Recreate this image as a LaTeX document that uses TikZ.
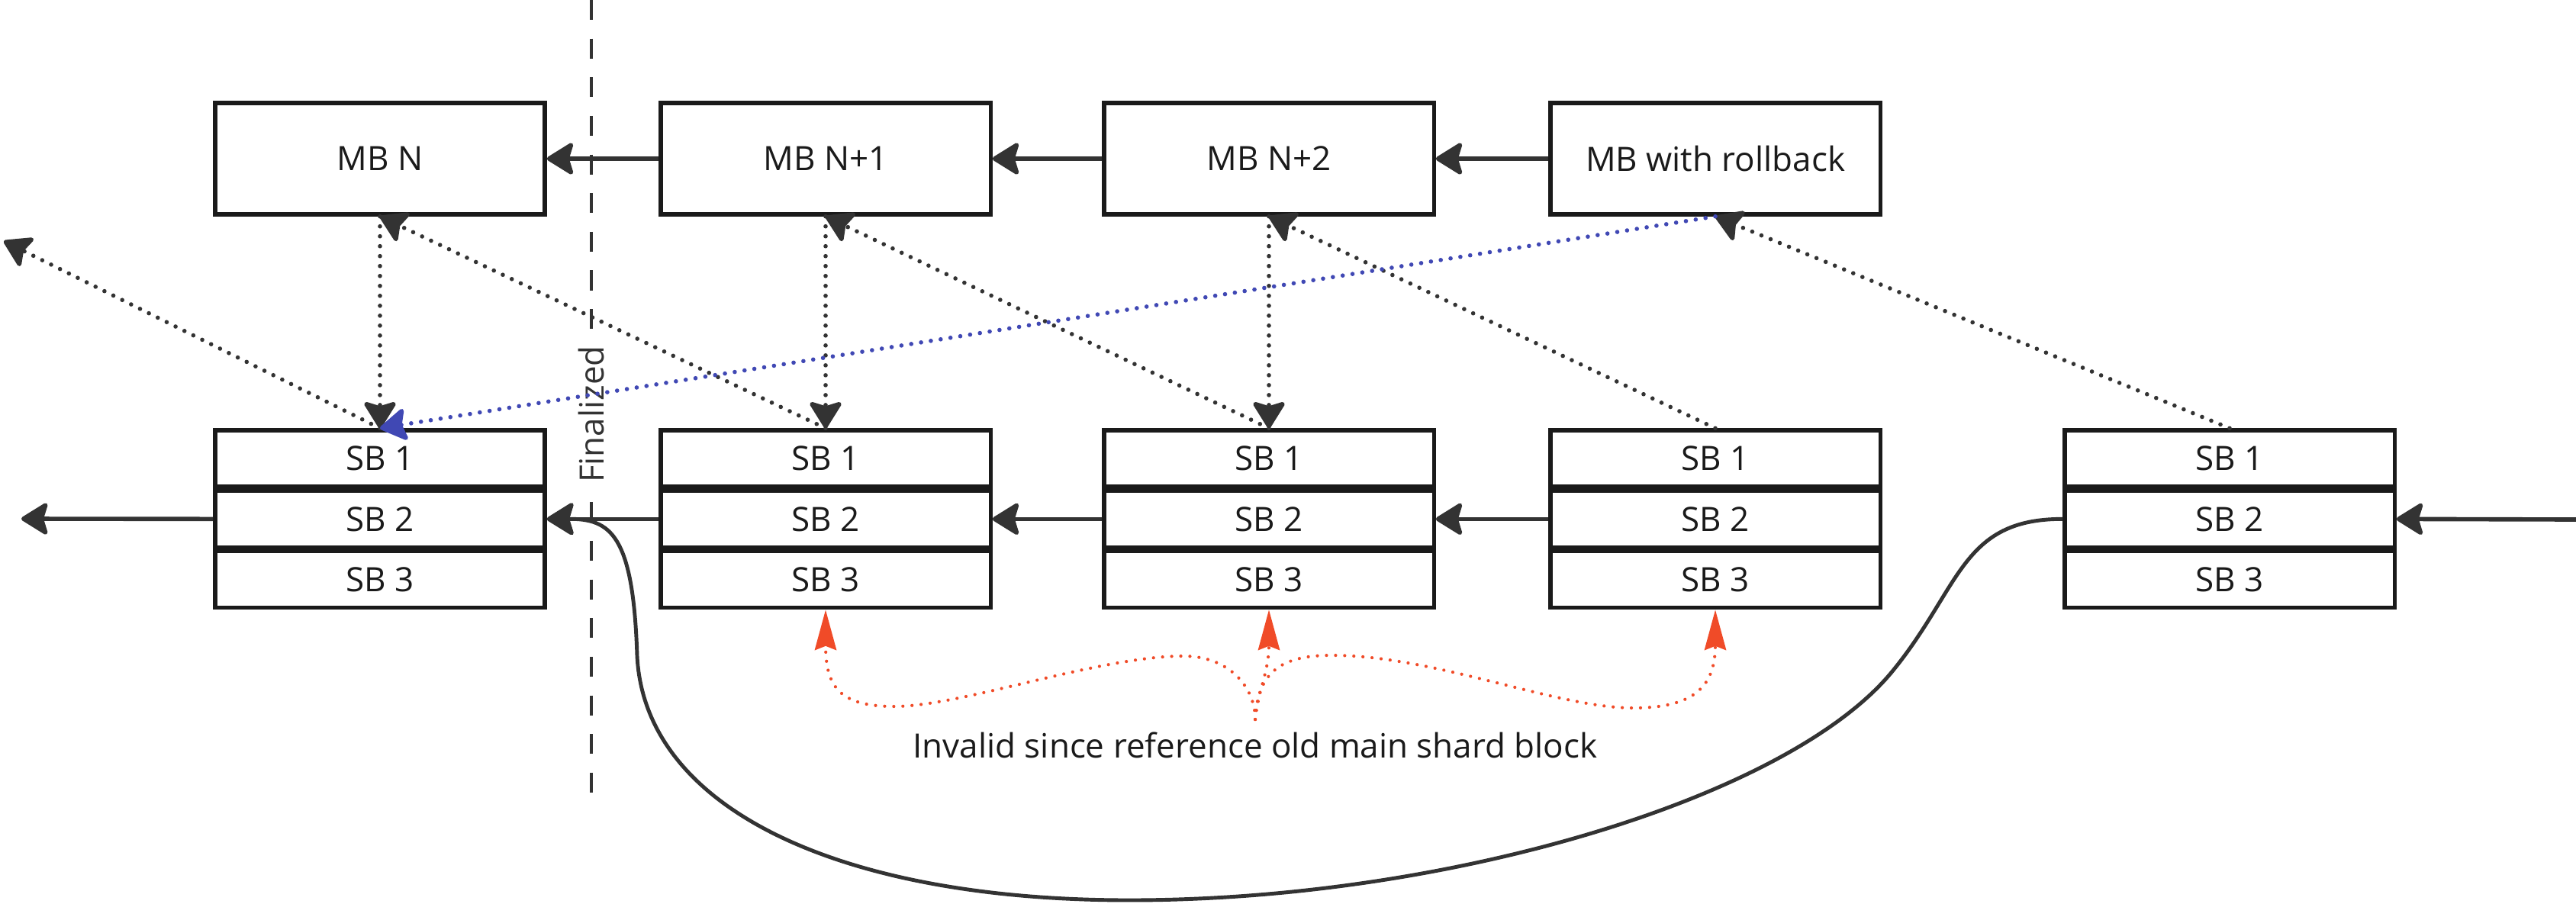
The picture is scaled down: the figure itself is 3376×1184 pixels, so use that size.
\documentclass[tikz,border=0pt]{standalone}
\usepackage{fontspec}
\setmainfont{Open Sans}
\usetikzlibrary{arrows.meta,positioning}
\definecolor{boxc}{HTML}{1A1A1A}
\definecolor{arrc}{HTML}{333333}
\definecolor{refblue}{HTML}{4048B4}
\definecolor{refred}{HTML}{F04B28}

\begin{document}
\begin{tikzpicture}[x=0.01cm, y=-0.01cm,
    mb/.style={draw=boxc, line width=1.5pt, fill=white, minimum width=4.32cm, minimum height=1.46cm, inner sep=0pt, text=boxc, font=\fontsize{12.5}{15}\selectfont},
    sb/.style={mb, minimum height=0.74cm},
    arr/.style={draw=arrc, line width=1.6pt, -{Stealth[length=11pt, width=13.5pt, inset=2pt, round]}},
    refl/.style={draw=arrc, line width=1.6pt, line cap=round, dash pattern=on 0pt off 3.7pt, -{Stealth[length=11pt, width=13.5pt, inset=2pt, round]}},
    badref/.style={draw=refred, line width=1.2pt, line cap=round, dash pattern=on 0pt off 3.4pt, -{Stealth[length=15pt, width=8pt, inset=1.5pt]}}]
        \useasboundingbox (0,0) rectangle (3376,1184);

        \coordinate (fintop) at (775,0);
        \coordinate (finbot) at (775,1040);
        \draw[arrc, line width=1.2pt, dash pattern=on 7.4pt off 7pt] (fintop) -- (finbot);
        \node[fill=white, rotate=90, text=arrc, inner sep=2pt, font=\fontsize{12.5}{15}\selectfont] (fin) at (775,543) {Finalized};

        \node[mb] (mbn) at (498,208) {MB N};
        \node[mb] (mbna) at (1082,208) {MB N+1};
        \node[mb] (mbnb) at (1663,208) {MB N+2};
        \node[mb] (mbrb) at (2248,208) {MB with rollback};

        \foreach \c/\x in {n/498, na/1082, nb/1663, rb/2248, fk/2922} {
            \node[sb] (\c1) at (\x,601) {SB 1};
            \node[sb, below=0pt of \c1] (\c2) {SB 2};
            \node[sb, below=0pt of \c2] (\c3) {SB 3};
        }

        \draw[arr] (mbna.west) -- (mbn.east);
        \draw[arr] (mbnb.west) -- (mbna.east);
        \draw[arr] (mbrb.west) -- (mbnb.east);

        \coordinate (outl) at (28,680);
        \coordinate (inr) at (3376,681);
        \draw[arr] (n2.west) -- (outl);
        \draw[arr] (na2.west) -- (n2.east);
        \draw[arr] (nb2.west) -- (na2.east);
        \draw[arr] (rb2.west) -- (nb2.east);
        \draw[arr] (inr) -- (fk2.east);

        \draw[arr, line width=1.4pt] (fk2.west) .. controls (2570,680) and (2570,770) .. (2480,880)
            .. controls (2345,1045) and (1900,1180) .. (1480,1180)
            .. controls (1100,1180) and (845,1060) .. (835,860)
            .. controls (830,700) and (800,680) .. (n2.east);

        \draw[refl] (mbn.south) -- (n1.north);
        \draw[refl] (mbna.south) -- (na1.north);
        \draw[refl] (mbnb.south) -- (nb1.north);

        \coordinate (outul) at (5,316);
        \draw[refl] (n1.north) -- (outul);
        \draw[refl] (na1.north) -- (mbn.south);
        \draw[refl] (nb1.north) -- (mbna.south);
        \draw[refl] (rb1.north) -- (mbnb.south);
        \draw[refl] (fk1.north) -- (mbrb.south);
        \draw[refl, draw=refblue] (mbrb.south) -- (n1.north);

        \coordinate (inv) at (1645,943);
        \node[text=boxc, font=\fontsize{12.5}{15}\selectfont] (invlbl) at (1645,977) {Invalid since reference old main shard block};
        \draw[badref] (inv) .. controls (1645,900) and (1610,860) .. (1551,860)
            .. controls (1440,860) and (1260,926) .. (1172,926)
            .. controls (1100,926) and (1082,900) .. (na3.south);
        \draw[badref] (inv) .. controls (1650,900) and (1663,880) .. (nb3.south);
        \draw[badref] (inv) .. controls (1648,880) and (1680,859) .. (1745,859)
            .. controls (1880,859) and (2040,928) .. (2140,928)
            .. controls (2220,928) and (2248,900) .. (rb3.south);
    \end{tikzpicture}
\end{document}
